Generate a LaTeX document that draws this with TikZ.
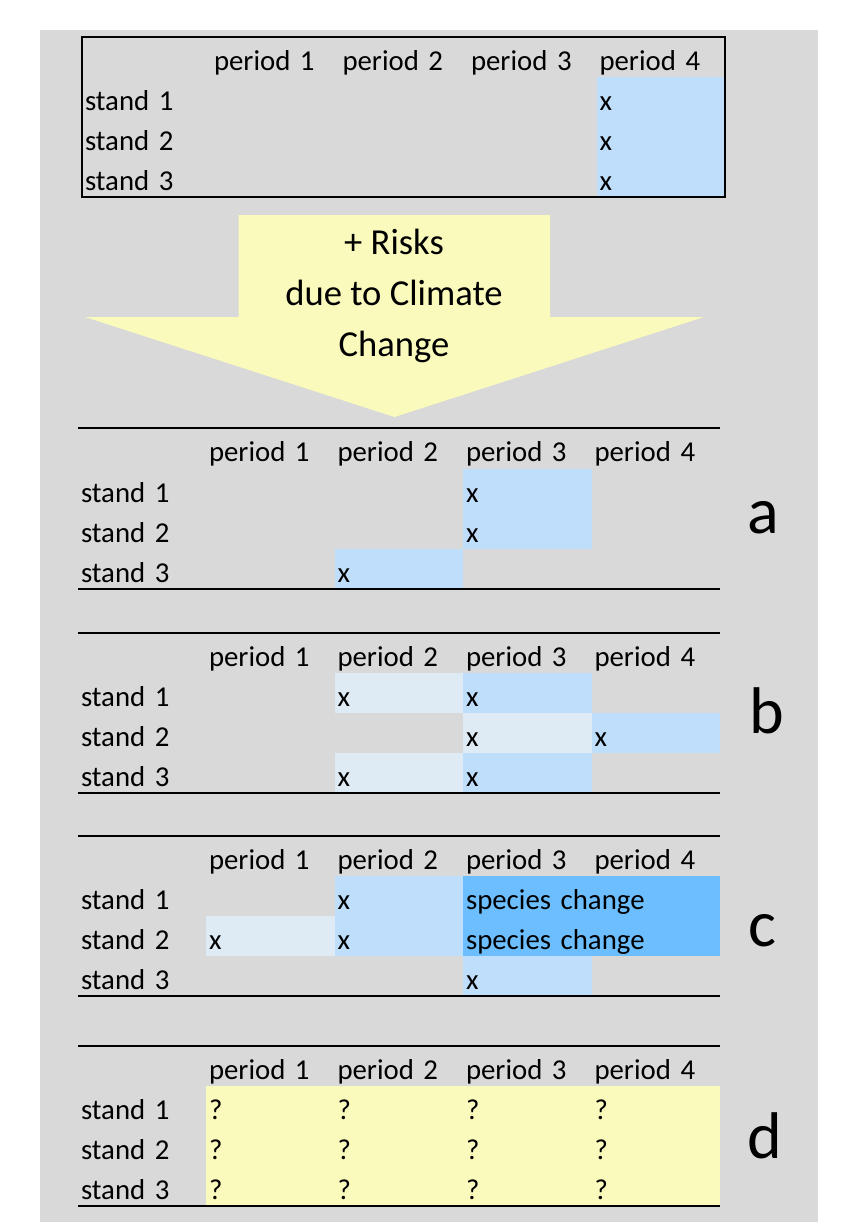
\documentclass[tikz,border=0pt]{standalone}
\usepackage{fontspec}
\setmainfont{Carlito}
\usepackage{tikz}
\usetikzlibrary{positioning}
\definecolor{sheetgray}{RGB}{217,217,217}
\definecolor{hitblue}{RGB}{190,222,252}
\definecolor{paleblue}{RGB}{222,235,245}
\definecolor{deepblue}{RGB}{108,190,255}
\definecolor{riskyellow}{RGB}{250,250,188}

\begin{document}
\begin{tikzpicture}[x=0.5pt, y=-0.5pt, font=\fontsize{14.4}{17}\selectfont,
  cell/.style={anchor=west, inner xsep=1.5pt, inner ysep=0pt, outer sep=0pt,
    text width=61.25pt, text height=16.5pt, text depth=3.5pt, align=left},
  hit/.style={cell, fill=hitblue},
  pale/.style={cell, fill=paleblue},
  swap/.style={cell, fill=deepblue, text width=125.5pt},
  unknown/.style={cell, fill=riskyellow},
  rule/.style={line width=1.2pt},
  tag/.style={anchor=base west, inner sep=0pt, font=\fontsize{33}{40}\selectfont},
  risk/.style={align=center, font=\fontsize{18.3}{25.5}\selectfont}]
  \useasboundingbox (0,0) rectangle (849,1222);
  \fill[white] (0,0) rectangle (849,1222);
  \fill[sheetgray] (40,30) rectangle (818,1222);

  % plan without risks
  \node[cell] (t-p1) at (211,57) {period 1};
  \node[cell, right=0pt of t-p1] (t-p2) {period 2};
  \node[cell, right=0pt of t-p2] (t-p3) {period 3};
  \node[cell, right=0pt of t-p3] (t-p4) {period 4};
  \node[cell] (t-s1) at (82,97) {stand 1};
  \node[cell, below=0pt of t-s1] (t-s2) {stand 2};
  \node[cell, below=0pt of t-s2] (t-s3) {stand 3};
  \node[hit] (t-41) at (t-p4.west |- t-s1) {x};
  \node[hit] (t-42) at (t-p4.west |- t-s2) {x};
  \node[hit] (t-43) at (t-p4.west |- t-s3) {x};
  \draw[line width=1pt] (t-s1.west |- t-p1.north) rectangle (t-p4.east |- t-s3.south);

  % arrow
  \fill[riskyellow] (238.5,215) -- (550,215) -- (550,317) -- (704,317)
    -- (394.5,417) -- (85,317) -- (238.5,317) -- cycle;
  \node[risk] (risk) at (394,296) {+ Risks\\due to Climate\\Change};

  % a
  \node[cell] (a-p1) at (206,448) {period 1};
  \node[cell, right=0pt of a-p1] (a-p2) {period 2};
  \node[cell, right=0pt of a-p2] (a-p3) {period 3};
  \node[cell, right=0pt of a-p3] (a-p4) {period 4};
  \node[cell] (a-s1) at (78,489) {stand 1};
  \node[cell, below=0pt of a-s1] (a-s2) {stand 2};
  \node[cell, below=0pt of a-s2] (a-s3) {stand 3};
  \node[hit] (a-31) at (a-p3.west |- a-s1) {x};
  \node[hit] (a-32) at (a-p3.west |- a-s2) {x};
  \node[hit] (a-23) at (a-p2.west |- a-s3) {x};
  \draw[rule] (a-s1.west |- a-p1.north) -- (a-p4.north east);
  \draw[rule] (a-s3.south west) -- (a-p4.east |- a-s3.south);
  \node[tag] (tag-a) at (747,533) {a};

  % b
  \node[cell] (b-p1) at (206,653) {period 1};
  \node[cell, right=0pt of b-p1] (b-p2) {period 2};
  \node[cell, right=0pt of b-p2] (b-p3) {period 3};
  \node[cell, right=0pt of b-p3] (b-p4) {period 4};
  \node[cell] (b-s1) at (78,693) {stand 1};
  \node[cell, below=0pt of b-s1] (b-s2) {stand 2};
  \node[cell, below=0pt of b-s2] (b-s3) {stand 3};
  \node[pale] (b-21) at (b-p2.west |- b-s1) {x};
  \node[hit] (b-31) at (b-p3.west |- b-s1) {x};
  \node[pale] (b-32) at (b-p3.west |- b-s2) {x};
  \node[hit] (b-42) at (b-p4.west |- b-s2) {x};
  \node[pale] (b-23) at (b-p2.west |- b-s3) {x};
  \node[hit] (b-33) at (b-p3.west |- b-s3) {x};
  \draw[rule] (b-s1.west |- b-p1.north) -- (b-p4.north east);
  \draw[rule] (b-s3.south west) -- (b-p4.east |- b-s3.south);
  \node[tag] (tag-b) at (749,733) {b};

  % c
  \node[cell] (c-p1) at (206,856) {period 1};
  \node[cell, right=0pt of c-p1] (c-p2) {period 2};
  \node[cell, right=0pt of c-p2] (c-p3) {period 3};
  \node[cell, right=0pt of c-p3] (c-p4) {period 4};
  \node[cell] (c-s1) at (78,896) {stand 1};
  \node[cell, below=0pt of c-s1] (c-s2) {stand 2};
  \node[cell, below=0pt of c-s2] (c-s3) {stand 3};
  \node[hit] (c-21) at (c-p2.west |- c-s1) {x};
  \node[swap] (c-31) at (c-p3.west |- c-s1) {species change};
  \node[pale] (c-12) at (c-p1.west |- c-s2) {x};
  \node[hit] (c-22) at (c-p2.west |- c-s2) {x};
  \node[swap] (c-32) at (c-p3.west |- c-s2) {species change};
  \node[hit] (c-33) at (c-p3.west |- c-s3) {x};
  \draw[rule] (c-s1.west |- c-p1.north) -- (c-p4.north east);
  \draw[rule] (c-s3.south west) -- (c-p4.east |- c-s3.south);
  \node[tag] (tag-c) at (748,946) {c};

  % d
  \node[cell] (d-p1) at (206,1066) {period 1};
  \node[cell, right=0pt of d-p1] (d-p2) {period 2};
  \node[cell, right=0pt of d-p2] (d-p3) {period 3};
  \node[cell, right=0pt of d-p3] (d-p4) {period 4};
  \node[cell] (d-s1) at (78,1106) {stand 1};
  \node[cell, below=0pt of d-s1] (d-s2) {stand 2};
  \node[cell, below=0pt of d-s2] (d-s3) {stand 3};
  \node[unknown] (d-11) at (d-p1.west |- d-s1) {?};
  \node[unknown] (d-21) at (d-p2.west |- d-s1) {?};
  \node[unknown] (d-31) at (d-p3.west |- d-s1) {?};
  \node[unknown] (d-41) at (d-p4.west |- d-s1) {?};
  \node[unknown] (d-12) at (d-p1.west |- d-s2) {?};
  \node[unknown] (d-22) at (d-p2.west |- d-s2) {?};
  \node[unknown] (d-32) at (d-p3.west |- d-s2) {?};
  \node[unknown] (d-42) at (d-p4.west |- d-s2) {?};
  \node[unknown] (d-13) at (d-p1.west |- d-s3) {?};
  \node[unknown] (d-23) at (d-p2.west |- d-s3) {?};
  \node[unknown] (d-33) at (d-p3.west |- d-s3) {?};
  \node[unknown] (d-43) at (d-p4.west |- d-s3) {?};
  \draw[rule] (d-s1.west |- d-p1.north) -- (d-p4.north east);
  \draw[rule] (d-s3.south west) -- (d-p4.east |- d-s3.south);
  \node[tag] (tag-d) at (747,1158) {d};
\end{tikzpicture}
\end{document}
